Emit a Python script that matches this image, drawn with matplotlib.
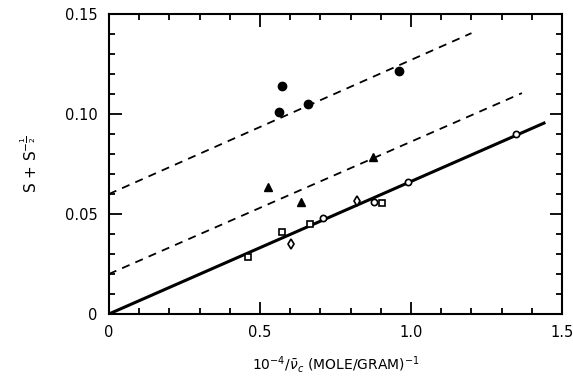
import matplotlib

matplotlib.use("Agg")
import matplotlib.pyplot as plt
from matplotlib.ticker import MultipleLocator

# data
filled_circle_x = [0.573, 0.563, 0.659, 0.96]
filled_circle_y = [0.114, 0.101, 0.105, 0.1215]
triangle_x = [0.527, 0.636, 0.874]
triangle_y = [0.0635, 0.056, 0.0785]
open_circle_x = [0.709, 0.877, 0.99, 1.348]
open_circle_y = [0.048, 0.056, 0.066, 0.090]
square_x = [0.46, 0.573, 0.666, 0.904]
square_y = [0.0285, 0.041, 0.045, 0.0555]
diamond_x = [0.603, 0.821]
diamond_y = [0.035, 0.0565]

# fitted lines: (x start, x end), (y start, y end)
solid_x = [0.0, 1.44]
solid_y = [0.0, 0.0955]
dash_upper_x = [0.0, 1.20]
dash_upper_y = [0.060, 0.1405]
dash_lower_x = [0.0, 1.367]
dash_lower_y = [0.020, 0.1105]

plt.rcParams["font.family"] = ["DejaVu Sans"]

fig = plt.figure(figsize=(5.73, 3.82), dpi=100)
ax = fig.add_axes([0.190, 0.178, 0.791, 0.785])

ax.plot(solid_x, solid_y, "-", color="black", lw=2.2)
ax.plot(dash_upper_x, dash_upper_y, "--", color="black", lw=1.3, dashes=(4.5, 3.5))
ax.plot(dash_lower_x, dash_lower_y, "--", color="black", lw=1.3, dashes=(4.5, 3.5))

ax.plot(filled_circle_x, filled_circle_y, "o", color="black", ms=6, ls="none")
ax.plot(triangle_x, triangle_y, "^", color="black", ms=6, ls="none")
ax.plot(open_circle_x, open_circle_y, "o", mfc="white", mec="black", mew=1.2, ms=4.5, ls="none")
ax.plot(square_x, square_y, "s", mfc="white", mec="black", mew=1.2, ms=4.5, ls="none")
ax.plot(diamond_x, diamond_y, "d", mfc="white", mec="black", mew=1.2, ms=5, ls="none")

ax.set_xlim(0, 1.5)
ax.set_ylim(0, 0.15)
ax.xaxis.set_minor_locator(MultipleLocator(0.1))
ax.yaxis.set_minor_locator(MultipleLocator(0.01))
ax.set_xticks([0, 0.5, 1.0, 1.5])
ax.set_xticklabels(["0", "0.5", "1.0", "1.5"])
ax.set_yticks([0, 0.05, 0.10, 0.15])
ax.set_yticklabels(["0", "0.05", "0.10", "0.15"])
ax.tick_params(which="both", direction="in", top=True, right=True, labelsize=10.5, width=1.3)
ax.tick_params(which="major", length=9, pad=8)
ax.tick_params(which="minor", length=4)
for s in ax.spines.values():
    s.set_linewidth(1.5)

ax.set_ylabel(r"S + S$^{-\frac{1}{2}}$", fontsize=11, labelpad=18)
ax.set_xlabel(r"$10^{-4}/\bar{\nu}_c$ (MOLE/GRAM)$^{-1}$", fontsize=10, labelpad=10)

fig.savefig("out.png", dpi=100)
